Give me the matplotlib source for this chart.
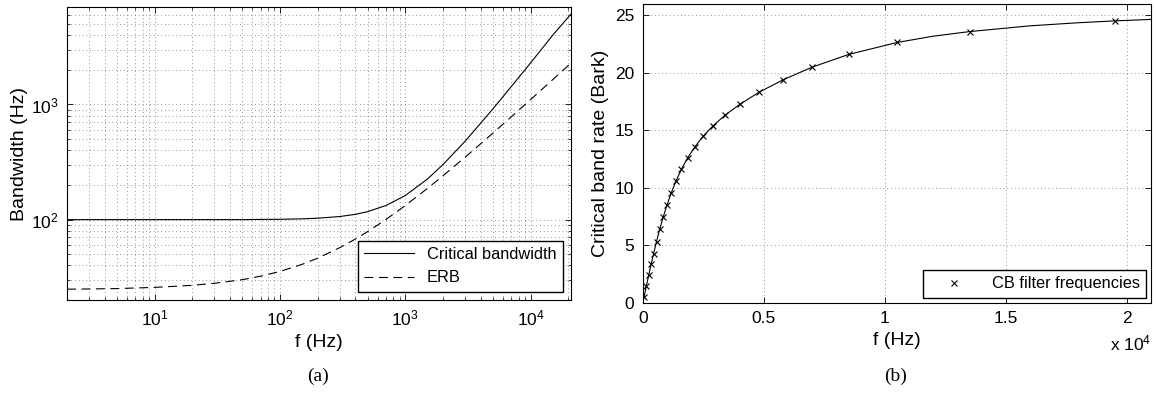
import matplotlib
matplotlib.use("Agg")
import matplotlib.pyplot as plt
import numpy as np

plt.rcParams['font.family'] = ['Liberation Sans', 'DejaVu Sans']
plt.rcParams['mathtext.fontset'] = 'custom'
plt.rcParams['mathtext.rm'] = 'Liberation Sans'
plt.rcParams['mathtext.it'] = 'Liberation Sans:italic'
plt.rcParams['font.size'] = 12

# (a) bandwidth vs frequency
bw_f = [2, 3, 5, 7, 10, 20, 30, 50, 70, 100, 150, 200, 300, 400, 500, 700,
        1000, 1500, 2000, 3000, 4000, 5000, 7000, 10000, 15000, 21000]
cb_bw = [100, 100, 100, 100, 100, 100, 100, 100, 100.4, 100.7, 101.6, 102.9,
         106.4, 111.2, 117.3, 132.6, 162, 225, 301, 480, 690, 916, 1430,
         2300, 4000, 6100]
erb_bw = [24.9, 25.0, 25.2, 25.5, 25.8, 26.9, 28.0, 30.1, 32.3, 35.5, 40.9,
          46.3, 57.1, 67.9, 78.7, 100.3, 132.6, 186.6, 240.6, 348.5, 456.5,
          564.4, 780.3, 1104, 1644, 2290]

# (b) critical band rate vs frequency
bark_f = [0, 50, 150, 250, 350, 450, 570, 700, 840, 1000, 1170, 1370, 1600,
          1850, 2150, 2500, 2900, 3400, 4000, 4800, 5800, 7000, 8500, 10500,
          12000, 13500, 16000, 18000, 19500, 21000]
bark_z = [0, 0.49, 1.48, 2.45, 3.39, 4.29, 5.34, 6.39, 7.43, 8.51, 9.53,
          10.59, 11.63, 12.60, 13.57, 14.51, 15.40, 16.33, 17.26, 18.32,
          19.41, 20.51, 21.61, 22.65, 23.2, 23.60, 24.10, 24.37, 24.53, 24.66]
cb_centers = [50, 150, 250, 350, 450, 570, 700, 840, 1000, 1170, 1370, 1600,
              1850, 2150, 2500, 2900, 3400, 4000, 4800, 5800, 7000, 8500,
              10500, 13500, 19500]
cb_bark = [0.49, 1.48, 2.45, 3.39, 4.29, 5.34, 6.39, 7.43, 8.51, 9.53, 10.59,
           11.63, 12.60, 13.57, 14.51, 15.40, 16.33, 17.26, 18.32, 19.41,
           20.51, 21.61, 22.65, 23.60, 24.53]

fig = plt.figure(figsize=(11.56, 3.97), dpi=100)
ax1 = fig.add_axes([0.058, 0.244, 0.436, 0.738])
ax2 = fig.add_axes([0.556, 0.237, 0.440, 0.753])

grid_kw = dict(color='k', linestyle=(0, (1, 3.5)), linewidth=0.6, alpha=0.55)

# --- left panel ---
ax1.loglog(bw_f, cb_bw, 'k-', linewidth=0.8, label='Critical bandwidth')
ax1.loglog(bw_f, erb_bw, 'k', linestyle=(0, (8, 5)), linewidth=0.8, label='ERB')
ax1.set_xlim(2, 21000)
ax1.set_ylim(20, 7000)
ax1.grid(True, which='both', **grid_kw)
ax1.set_xlabel('f (Hz)', fontsize=14, labelpad=4)
ax1.set_ylabel('Bandwidth (Hz)', fontsize=14, labelpad=2)
ax1.legend(loc='lower right', fancybox=False, edgecolor='k', framealpha=1,
           handlelength=3, borderaxespad=0.5, fontsize=11.8)

# --- right panel ---
ax2.plot(bark_f, bark_z, 'k-', linewidth=0.8)
ax2.plot(cb_centers, cb_bark, 'kx', markersize=5, markeredgewidth=0.8,
         label='CB filter frequencies')
ax2.set_xlim(0, 21000)
ax2.set_ylim(0, 26)
ax2.set_xticks([0, 5000, 10000, 15000, 20000])
ax2.set_xticklabels(['0', '0.5', '1', '1.5', '2'])
ax2.set_yticks([0, 5, 10, 15, 20, 25])
ax2.grid(True, which='major', **grid_kw)
ax2.set_xlabel('f (Hz)', fontsize=14, labelpad=4)
ax2.set_ylabel('Critical band rate (Bark)', fontsize=14, labelpad=4)
ax2.text(1.0, -0.135, r'x 10$^4$', transform=ax2.transAxes, ha='right',
         va='center', fontsize=12.5)
ax2.legend(loc='lower right', fancybox=False, edgecolor='k', framealpha=1,
           handlelength=3, borderaxespad=0.3, fontsize=11.8)

for ax in (ax1, ax2):
    ax.tick_params(which='both', direction='in', top=True, right=True,
                   labelsize=12.5)
    ax.tick_params(which='major', length=4, width=0.6, pad=6)
    ax.tick_params(which='minor', length=2, width=0.5)
    for s in ax.spines.values():
        s.set_linewidth(0.8)

fig.text(0.275, 0.04, '(a)', family='Liberation Serif', fontsize=14,
         ha='center')
fig.text(0.775, 0.04, '(b)', family='Liberation Serif', fontsize=14,
         ha='center')

fig.savefig('out.png', dpi=100)
